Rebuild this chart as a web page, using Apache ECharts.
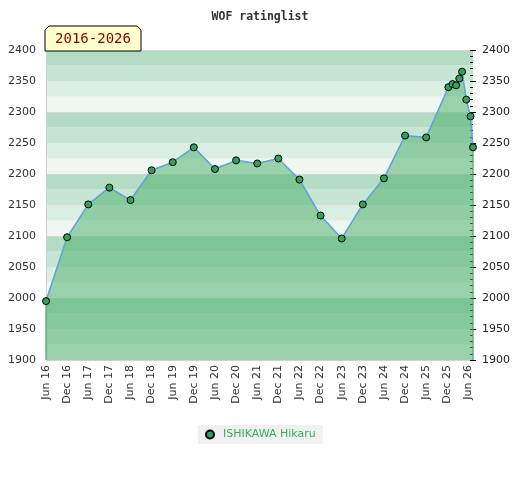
<!DOCTYPE html>
<html>
<head>
<meta charset="utf-8">
<script src="https://cdn.jsdelivr.net/npm/echarts@6/dist/echarts.min.js"></script>
<style>
  html, body { margin: 0; padding: 0; background: #fff; }
  #chart { width: 520px; height: 480px; }
</style>
</head>
<body>
<div id="chart"></div>
<script>
// months since Jun 2016, and the rating at that list
var ratingMonths = [0, 6, 12, 18, 24, 30, 36, 42, 48, 54, 60, 66, 72, 78, 84, 90, 96, 102, 108,
                    114.3, 115.5, 116.5, 117.4, 118.2, 119.4, 120.6, 121.3];
var ratingValues = [1995, 2098, 2151, 2178, 2158, 2206, 2219, 2243, 2208, 2222, 2217, 2225, 2191,
                    2133, 2096, 2151, 2193, 2262, 2259,
                    2340, 2345, 2343, 2354, 2365, 2320, 2293, 2243];
var xTickLabels = ['Jun 16', 'Dec 16', 'Jun 17', 'Dec 17', 'Jun 18', 'Dec 18', 'Jun 19',
                   'Dec 19', 'Jun 20', 'Dec 20', 'Jun 21', 'Dec 21', 'Jun 22', 'Dec 22',
                   'Jun 23', 'Dec 23', 'Jun 24', 'Dec 24', 'Jun 25', 'Dec 25', 'Jun 26'];
var playerName = 'ISHIKAWA Hikaru';
var periodText = '2016-2026';

var yMin = 1900, yMax = 2400;

var points = [];
for (var i = 0; i < ratingMonths.length; i++) {
    points.push([ratingMonths[i], ratingValues[i]]);
}
var last = points.length - 1;
// outline of the filled area on its left and right edges
var edges = [
    [ratingMonths[0], yMin], [ratingMonths[0], ratingValues[0]], null,
    [ratingMonths[last], yMin], [ratingMonths[last], ratingValues[last]]
];

function plain(v) { return String(v); }

var chart = echarts.init(document.getElementById('chart'));
chart.setOption({
    animation: false,
    title: {
        text: 'WOF ratinglist',
        left: 'center',
        top: 6,
        textStyle: { fontFamily: 'DejaVu Sans Mono', fontSize: 11.5, fontWeight: 'bold', color: '#333' }
    },
    legend: {
        data: [{ name: playerName, icon: 'circle' }],
        left: 198,
        top: 425,
        backgroundColor: '#f0f0f0',
        padding: [4, 7, 4, 7],
        itemWidth: 16,
        itemHeight: 8,
        textStyle: { fontFamily: 'DejaVu Sans', fontSize: 11, color: '#3aaa5a' }
    },
    grid: { left: 46, right: 47, top: 50, bottom: 120 },
    xAxis: {
        type: 'value',
        min: 0,
        max: ratingMonths[last],
        interval: 6,
        axisLine: { lineStyle: { color: '#d0d0d0' } },
        axisTick: { show: false },
        splitLine: { show: false },
        axisLabel: {
            rotate: 90,
            margin: 5,
            fontFamily: 'DejaVu Sans',
            fontSize: 11,
            color: '#333',
            showMaxLabel: false,
            formatter: function (v) {
                var k = Math.round(v / 6);
                return Math.abs(v - k * 6) < 0.01 && xTickLabels[k] ? xTickLabels[k] : '';
            }
        }
    },
    yAxis: [
        {
            type: 'value', position: 'left', min: yMin, max: yMax, interval: 50,
            axisLine: { show: true, lineStyle: { color: '#d0d0d0' } },
            axisTick: { show: false },
            splitLine: { show: false },
            axisLabel: { margin: 10, fontFamily: 'DejaVu Sans', fontSize: 11, color: '#333', formatter: plain }
        },
        {
            type: 'value', position: 'right', min: yMin, max: yMax, interval: 50,
            axisLine: { show: false },
            axisTick: { show: true, length: 3, lineStyle: { color: '#000' } },
            splitLine: { show: false },
            axisLabel: { margin: 9, fontFamily: 'DejaVu Sans', fontSize: 11, color: '#222', formatter: plain }
        },
        {
            type: 'value', position: 'right', min: yMin, max: yMax, interval: 50,
            axisLine: { show: false },
            axisTick: { show: true, inside: true, length: 3, lineStyle: { color: '#000' } },
            minorTick: { show: true, splitNumber: 5, length: 3, lineStyle: { color: '#000' } },
            axisLabel: { show: false },
            splitLine: { show: false }
        },
        {
            type: 'value', position: 'left', min: yMin, max: yMax, interval: 25,
            axisLine: { show: false },
            axisTick: { show: false },
            axisLabel: { show: false },
            splitArea: { show: true, areaStyle: { color: ['#f0f7f2', '#dbeee2', '#c6e5d3', '#b3dcc3'] } },
            splitLine: { show: true, lineStyle: { width: 1, color: ['#d6d6d6', 'rgba(0,0,0,0)', 'rgba(0,0,0,0)', 'rgba(0,0,0,0)'] } }
        }
    ],
    graphic: [
        {
            type: 'polygon',
            z: 100,
            shape: { points: [[45, 51], [45, 30], [49, 26], [137, 26], [141, 30], [141, 51]] },
            style: { fill: '#ffffcc', stroke: '#000', lineWidth: 1 }
        },
        {
            type: 'text',
            z: 101,
            x: 93,
            y: 39,
            style: {
                text: periodText,
                fill: '#8b0000',
                font: '14px "DejaVu Sans Mono"',
                align: 'center',
                verticalAlign: 'middle'
            }
        }
    ],
    series: [
        {
            name: playerName,
            type: 'line',
            yAxisIndex: 0,
            data: points,
            symbol: 'circle',
            symbolSize: 7,
            showAllSymbol: true,
            clip: false,
            z: 5,
            lineStyle: { color: '#62a0d8', width: 1.5 },
            itemStyle: { color: '#35a05e', borderColor: '#000', borderWidth: 1 },
            areaStyle: { color: 'rgb(82,178,113)', opacity: 0.55, origin: 'start' }
        },
        {
            name: 'edges',
            type: 'line',
            yAxisIndex: 0,
            data: edges,
            symbol: 'none',
            silent: true,
            z: 4,
            connectNulls: false,
            lineStyle: { color: '#2e8b57', width: 1 }
        }
    ]
});
window.addEventListener('resize', chart.resize);
</script>
</body>
</html>
